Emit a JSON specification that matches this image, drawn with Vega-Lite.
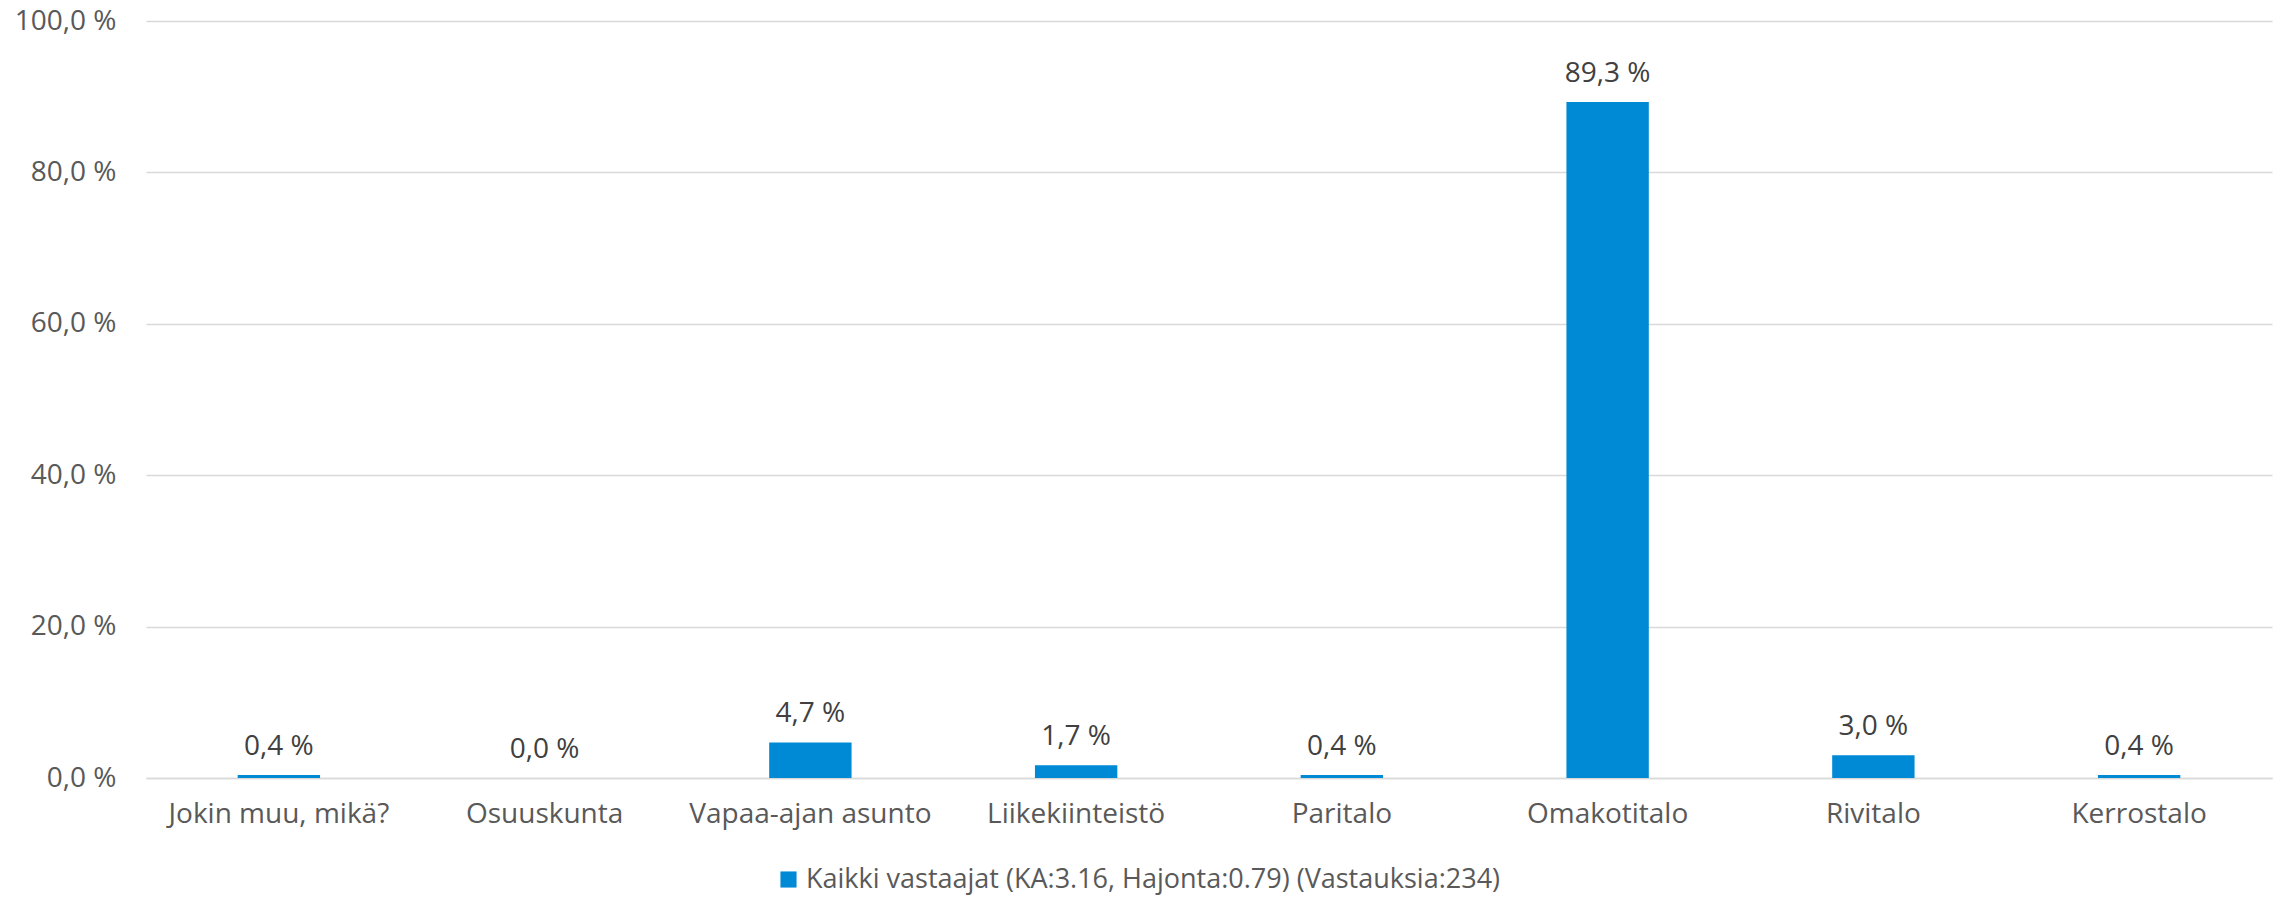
{
  "$schema": "https://vega.github.io/schema/vega-lite/v6.json",
  "autosize": "none",
  "width": 2126,
  "height": 757,
  "padding": {"left": 146, "top": 21, "right": 8, "bottom": 121},
  "background": "white",
  "data": {"values": [
    {"cat": "Jokin muu, mikä?", "v": 0.4, "label": "0,4 %", "series": "Kaikki vastaajat (KA:3.16, Hajonta:0.79) (Vastauksia:234)"},
    {"cat": "Osuuskunta", "v": 0.0, "label": "0,0 %", "series": "Kaikki vastaajat (KA:3.16, Hajonta:0.79) (Vastauksia:234)"},
    {"cat": "Vapaa-ajan asunto", "v": 4.7, "label": "4,7 %", "series": "Kaikki vastaajat (KA:3.16, Hajonta:0.79) (Vastauksia:234)"},
    {"cat": "Liikekiinteistö", "v": 1.7, "label": "1,7 %", "series": "Kaikki vastaajat (KA:3.16, Hajonta:0.79) (Vastauksia:234)"},
    {"cat": "Paritalo", "v": 0.4, "label": "0,4 %", "series": "Kaikki vastaajat (KA:3.16, Hajonta:0.79) (Vastauksia:234)"},
    {"cat": "Omakotitalo", "v": 89.3, "label": "89,3 %", "series": "Kaikki vastaajat (KA:3.16, Hajonta:0.79) (Vastauksia:234)"},
    {"cat": "Rivitalo", "v": 3.0, "label": "3,0 %", "series": "Kaikki vastaajat (KA:3.16, Hajonta:0.79) (Vastauksia:234)"},
    {"cat": "Kerrostalo", "v": 0.4, "label": "0,4 %", "series": "Kaikki vastaajat (KA:3.16, Hajonta:0.79) (Vastauksia:234)"}
  ]},
  "encoding": {
    "x": {
      "field": "cat", "type": "nominal", "sort": null, "title": null,
      "scale": {"paddingInner": 0.69, "paddingOuter": 0.345},
      "axis": {"labelAngle": 0, "ticks": false, "domain": true, "domainColor": "#d9d9d9", "domainWidth": 1.5, "labelFont": "Open Sans", "labelFontSize": 28, "labelColor": "#595959", "labelPadding": 22, "labelLimit": 400, "grid": false}
    },
    "y": {
      "field": "v", "type": "quantitative", "title": null,
      "scale": {"domain": [0, 100], "nice": false},
      "axis": {"values": [0, 20, 40, 60, 80, 100], "labelExpr": "replace(format(datum.value, '.1f'), '.', ',') + ' %'", "ticks": false, "domain": false, "grid": true, "gridColor": "#d9d9d9", "gridWidth": 1.5, "labelFont": "Open Sans", "labelFontSize": 28, "labelColor": "#595959", "labelPadding": 30}
    }
  },
  "layer": [
    {
      "mark": {"type": "bar"},
      "encoding": {
        "color": {"field": "series", "type": "nominal", "title": null,
          "scale": {"range": ["#0089D4"]},
          "legend": {"orient": "none", "legendX": 629, "legendY": 845, "direction": "horizontal", "symbolType": "square", "symbolSize": 260, "symbolStrokeWidth": 0, "labelFont": "Open Sans", "labelFontSize": 27, "labelColor": "#595959", "labelLimit": 1000, "padding": 0}
        }
      }
    },
    {
      "mark": {"type": "text", "baseline": "alphabetic", "dy": -20, "font": "Open Sans", "fontSize": 28, "color": "#404040"},
      "encoding": {"text": {"field": "label"}}
    }
  ],
  "config": {"view": {"stroke": null}}
}
